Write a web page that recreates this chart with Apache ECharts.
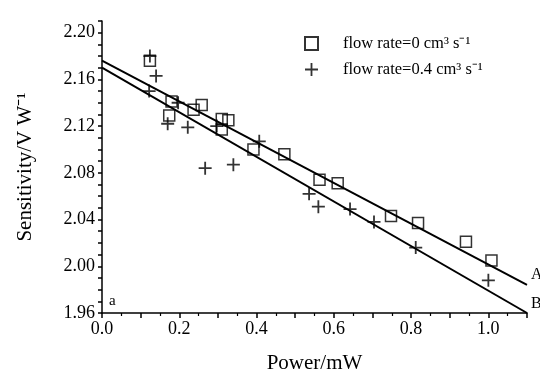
<!DOCTYPE html>
<html>
<head>
<meta charset="utf-8">
<script src="https://cdn.jsdelivr.net/npm/echarts@6/dist/echarts.min.js"></script>
<style>
  html, body { margin: 0; padding: 0; background: #fff; }
  #chart { width: 540px; height: 379px; }
</style>
</head>
<body>
<div id="chart"></div>
<script>
// flow rate = 0 (squares)
const powerA = [0.124, 0.180, 0.174, 0.237, 0.258, 0.310, 0.327, 0.310, 0.392, 0.472, 0.563, 0.610, 0.748, 0.818, 0.942, 1.008]
const sensA = [2.176, 2.141, 2.129, 2.134, 2.138, 2.126, 2.125, 2.117, 2.100, 2.096, 2.074, 2.071, 2.043, 2.037, 2.021, 2.005]
// flow rate = 0.4 (crosses)
const powerB = [0.124, 0.140, 0.122, 0.197, 0.170, 0.222, 0.297, 0.407, 0.267, 0.340, 0.536, 0.560, 0.642, 0.704, 0.812, 1.000]
const sensB = [2.180, 2.163, 2.150, 2.140, 2.122, 2.119, 2.120, 2.107, 2.084, 2.087, 2.062, 2.051, 2.049, 2.038, 2.016, 1.988]
// fitted lines A and B (end points)
const fitX = [0, 1.1]
const fitA = [2.176, 1.984]
const fitB = [2.170, 1.960]

const serif = 'Liberation Serif'
const plusPath = 'path://M4.3,0H5.7V4.3H10V5.7H5.7V10H4.3V5.7H0V4.3H4.3Z'

const zip = (xs, ys) => xs.map((x, i) => [x, ys[i]])

const chart = echarts.init(document.getElementById('chart'))

chart.setOption({
  animation: false,
  backgroundColor: '#fff',
  textStyle: { fontFamily: serif, color: '#000' },
  grid: { left: 102, right: 13, top: 21, bottom: 61 },
  legend: {
    orient: 'vertical',
    left: 299,
    top: 30,
    itemWidth: 13,
    itemHeight: 13,
    itemGap: 9,
    textStyle: { fontFamily: serif, fontSize: 16.5, color: '#000', padding: [0, 0, 0, 20] },
    data: [
      { name: 'flow rate=0 cm³ s⁻¹', icon: 'rect' },
      { name: 'flow rate=0.4 cm³ s⁻¹', icon: plusPath }
    ]
  },
  xAxis: {
    type: 'value',
    min: 0,
    max: 1.1,
    interval: 0.1,
    name: 'Power/mW',
    nameLocation: 'middle',
    nameGap: 40,
    nameTextStyle: { fontFamily: serif, fontSize: 21, color: '#000' },
    splitLine: { show: false },
    axisLine: { lineStyle: { color: '#000', width: 1.5 } },
    axisTick: { length: 5, lineStyle: { color: '#000', width: 1.5 } },
    minorTick: { show: true, splitNumber: 2, length: 3, lineStyle: { color: '#000', width: 1.2 } },
    axisLabel: {
      fontFamily: serif,
      fontSize: 18,
      color: '#000',
      margin: 7,
      formatter: v => (Math.round(v * 10) % 2 === 0 ? v.toFixed(1) : '')
    }
  },
  yAxis: {
    type: 'value',
    min: 1.96,
    max: 2.21,
    interval: 0.01,
    name: 'Sensitivity/V W⁻¹',
    nameLocation: 'middle',
    nameGap: 66,
    nameTextStyle: { fontFamily: serif, fontSize: 21, color: '#000' },
    splitLine: { show: false },
    axisLine: { lineStyle: { color: '#000', width: 1.5 } },
    axisTick: { length: 4, lineStyle: { color: '#000', width: 1.5 } },
    axisLabel: {
      fontFamily: serif,
      fontSize: 18,
      color: '#000',
      margin: 7,
      formatter: v => (Math.round((v - 1.96) * 100) % 4 === 0 ? v.toFixed(2) : '')
    }
  },
  series: [
    {
      name: 'flow rate=0 cm³ s⁻¹',
      type: 'scatter',
      symbol: 'rect',
      symbolSize: 11,
      itemStyle: { color: 'rgba(255,255,255,0)', borderColor: '#000', borderWidth: 1.5 },
      data: zip(powerA, sensA),
      z: 3
    },
    {
      name: 'flow rate=0.4 cm³ s⁻¹',
      type: 'scatter',
      symbol: plusPath,
      symbolSize: 13,
      itemStyle: { color: '#000' },
      data: zip(powerB, sensB),
      z: 3
    },
    {
      name: 'A',
      type: 'line',
      data: zip(fitX, fitA),
      showSymbol: false,
      lineStyle: { color: '#000', width: 2 },
      endLabel: { show: true, formatter: 'A', fontFamily: serif, fontSize: 16, color: '#000', offset: [-4, -10] },
      z: 2
    },
    {
      name: 'B',
      type: 'line',
      data: zip(fitX, fitB),
      showSymbol: false,
      lineStyle: { color: '#000', width: 2 },
      endLabel: { show: true, formatter: 'B', fontFamily: serif, fontSize: 16, color: '#000', offset: [-4, -9] },
      z: 2
    }
  ],
  graphic: [
    {
      type: 'text',
      left: 109,
      top: 294,
      style: { text: 'a', fontFamily: serif, fontSize: 15, fill: '#000' }
    }
  ]
})
</script>
</body>
</html>
